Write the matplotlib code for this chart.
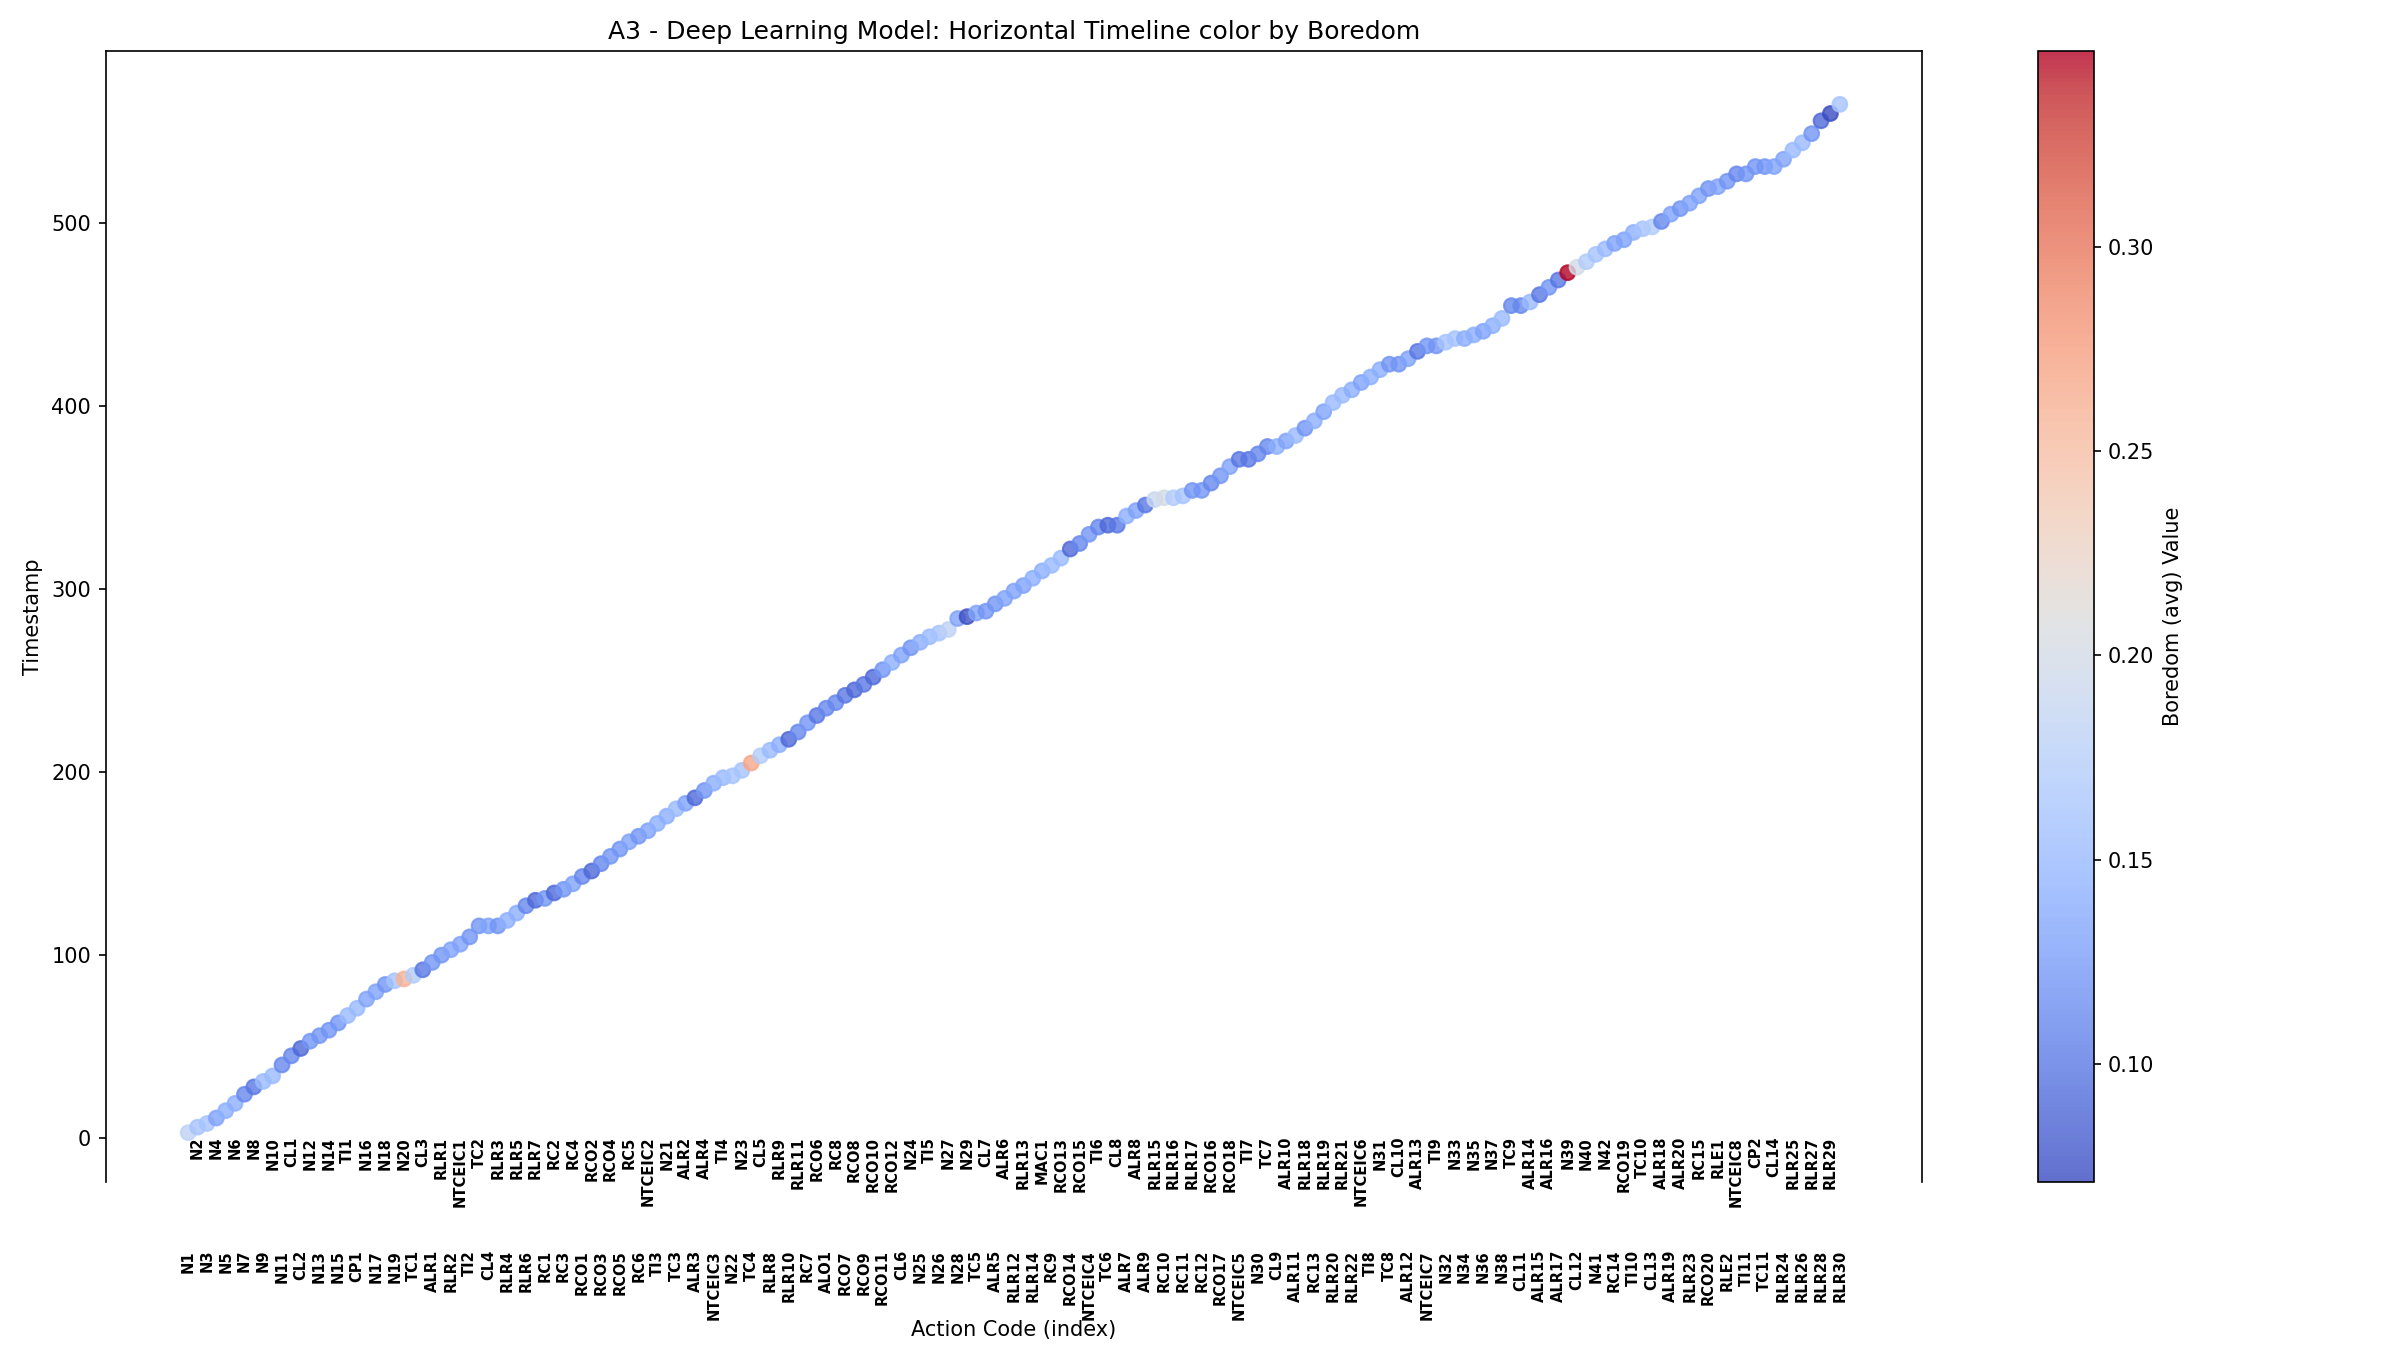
import numpy as np
import matplotlib
matplotlib.use("Agg")
import matplotlib.pyplot as plt

# action codes, in timeline order
codes = [
    "N1", "N2", "N3", "N4", "N5", "N6", "N7", "N8", "N9", "N10",
    "N11", "CL1", "CL2", "N12", "N13", "N14", "N15", "TI1", "CP1", "N16",
    "N17", "N18", "N19", "N20", "TC1", "CL3", "ALR1", "RLR1", "RLR2", "NTCEIC1",
    "TI2", "TC2", "CL4", "RLR3", "RLR4", "RLR5", "RLR6", "RLR7", "RC1", "RC2",
    "RC3", "RC4", "RCO1", "RCO2", "RCO3", "RCO4", "RCO5", "RC5", "RC6", "NTCEIC2",
    "TI3", "N21", "TC3", "ALR2", "ALR3", "ALR4", "NTCEIC3", "TI4", "N22", "N23",
    "TC4", "CL5", "RLR8", "RLR9", "RLR10", "RLR11", "RC7", "RCO6", "ALO1", "RC8",
    "RCO7", "RCO8", "RCO9", "RCO10", "RCO11", "RCO12", "CL6", "N24", "N25", "TI5",
    "N26", "N27", "N28", "N29", "TC5", "CL7", "ALR5", "ALR6", "RLR12", "RLR13",
    "RLR14", "MAC1", "RC9", "RCO13", "RCO14", "RCO15", "NTCEIC4", "TI6", "TC6", "CL8",
    "ALR7", "ALR8", "ALR9", "RLR15", "RC10", "RLR16", "RC11", "RLR17", "RC12", "RCO16",
    "RCO17", "RCO18", "NTCEIC5", "TI7", "N30", "TC7", "CL9", "ALR10", "ALR11", "RLR18",
    "RC13", "RLR19", "RLR20", "RLR21", "RLR22", "NTCEIC6", "TI8", "N31", "TC8", "CL10",
    "ALR12", "ALR13", "NTCEIC7", "TI9", "N32", "N33", "N34", "N35", "N36", "N37",
    "N38", "TC9", "CL11", "ALR14", "ALR15", "ALR16", "ALR17", "N39", "CL12", "N40",
    "N41", "N42", "RC14", "RCO19", "TI10", "TC10", "CL13", "ALR18", "ALR19", "ALR20",
    "RLR23", "RC15", "RCO20", "RLE1", "RLE2", "NTCEIC8", "TI11", "CP2", "TC11", "CL14",
    "RLR24", "RLR25", "RLR26", "RLR27", "RLR28", "RLR29", "RLR30",
]

timestamps = [
    3, 6, 8, 11, 15, 19, 24, 28, 31, 34,
    40, 45, 49, 53, 56, 59, 63, 67, 71, 76,
    80, 84, 86, 87, 89, 92, 96, 100, 103, 106,
    110, 116, 116, 116, 119, 123, 127, 130, 131, 134,
    136, 139, 143, 146, 150, 154, 158, 162, 165, 168,
    172, 176, 180, 183, 186, 190, 194, 197, 198, 201,
    205, 209, 212, 215, 218, 222, 227, 231, 235, 238,
    242, 245, 248, 252, 256, 260, 264, 268, 271, 274,
    276, 278, 284, 285, 287, 288, 292, 295, 299, 302,
    306, 310, 313, 317, 322, 325, 330, 334, 335, 335,
    340, 343, 346, 349, 350, 350, 351, 354, 354, 358,
    362, 367, 371, 371, 374, 378, 378, 381, 384, 388,
    392, 397, 402, 406, 409, 413, 416, 420, 423, 423,
    426, 430, 433, 433, 435, 437, 437, 439, 441, 444,
    448, 455, 455, 457, 461, 465, 469, 473, 476, 479,
    483, 486, 489, 491, 495, 497, 498, 501, 505, 508,
    511, 515, 519, 520, 523, 527, 527, 531, 531, 531,
    535, 540, 544, 549, 556, 560, 565,
]

boredom = [
    0.18, 0.16, 0.16, 0.13, 0.14, 0.14, 0.11, 0.10, 0.15, 0.15,
    0.11, 0.11, 0.09, 0.12, 0.12, 0.12, 0.12, 0.15, 0.15, 0.13,
    0.13, 0.12, 0.16, 0.26, 0.17, 0.10, 0.12, 0.12, 0.13, 0.13,
    0.12, 0.12, 0.13, 0.12, 0.14, 0.14, 0.11, 0.09, 0.12, 0.09,
    0.12, 0.13, 0.11, 0.09, 0.11, 0.12, 0.12, 0.13, 0.12, 0.13,
    0.14, 0.14, 0.15, 0.13, 0.09, 0.12, 0.14, 0.15, 0.16, 0.16,
    0.27, 0.17, 0.15, 0.14, 0.09, 0.11, 0.12, 0.10, 0.11, 0.11,
    0.10, 0.09, 0.10, 0.09, 0.12, 0.14, 0.13, 0.12, 0.14, 0.15,
    0.16, 0.18, 0.13, 0.075, 0.13, 0.12, 0.12, 0.13, 0.13, 0.13,
    0.14, 0.14, 0.15, 0.15, 0.09, 0.11, 0.12, 0.11, 0.09, 0.10,
    0.14, 0.13, 0.10, 0.19, 0.20, 0.17, 0.16, 0.12, 0.12, 0.11,
    0.12, 0.13, 0.10, 0.10, 0.11, 0.11, 0.14, 0.13, 0.15, 0.12,
    0.14, 0.13, 0.15, 0.15, 0.14, 0.13, 0.14, 0.14, 0.12, 0.12,
    0.13, 0.10, 0.12, 0.12, 0.16, 0.16, 0.14, 0.14, 0.13, 0.14,
    0.15, 0.11, 0.11, 0.15, 0.10, 0.12, 0.10, 0.348, 0.20, 0.17,
    0.16, 0.15, 0.13, 0.13, 0.14, 0.16, 0.17, 0.11, 0.13, 0.12,
    0.13, 0.13, 0.12, 0.13, 0.12, 0.11, 0.12, 0.12, 0.12, 0.13,
    0.13, 0.15, 0.15, 0.12, 0.09, 0.071, 0.16,
]

idx = np.arange(len(codes))

fig = plt.figure(figsize=(16, 9), dpi=150)
ax = fig.add_axes([0.044, 0.1244, 0.757, 0.8376])
cax = fig.add_axes([0.849, 0.1244, 0.0233, 0.8376])

sc = ax.scatter(idx, timestamps, c=boredom, cmap="coolwarm", s=50, alpha=0.8)
ax.set_ylim(-24, 594)
ax.set_xlim(-8.8, 184.8)

# labels alternate between two rows so they don't overlap
tr = ax.get_xaxis_transform()
for i, code in enumerate(codes):
    y = -0.06 if i % 2 == 0 else 0.04
    ax.text(i, y, code, transform=tr, rotation=90, ha="center", va="top",
            fontsize=7, fontweight="bold", clip_on=False)

ax.set_xticks([])
ax.spines["bottom"].set_visible(False)
ax.set_xlabel("Action Code (index)")
ax.xaxis.set_label_coords(0.5, -0.122)
ax.set_ylabel("Timestamp")
ax.set_title("A3 - Deep Learning Model: Horizontal Timeline color by Boredom")

cb = fig.colorbar(sc, cax=cax)
cb.set_label("Boredom (avg) Value")

fig.savefig("out.png", dpi=150)
